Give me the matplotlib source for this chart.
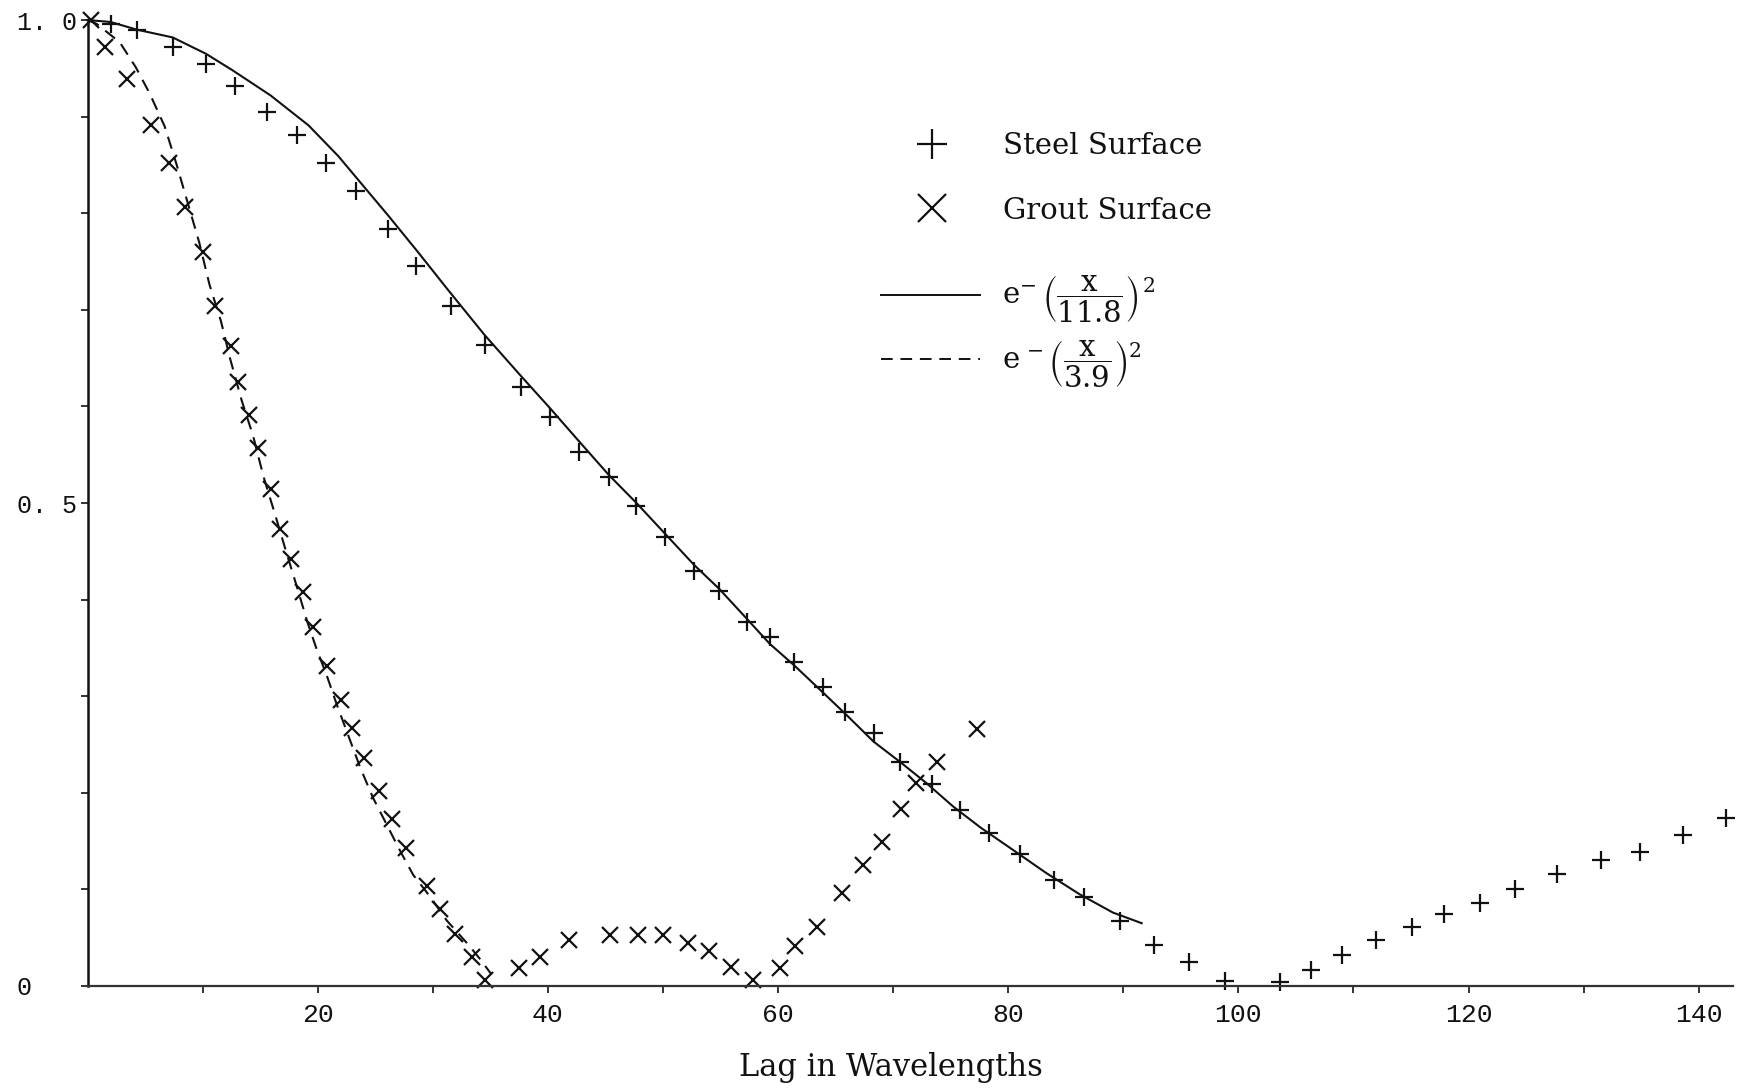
import matplotlib.pyplot as plt
from matplotlib.lines import Line2D

############################# DATA #####################################################################################
# Steel surface, "+" markers
steel_lag = [2.0, 4.3, 7.4, 10.3, 12.8, 15.6, 18.2, 20.7, 23.3, 26.1,
             28.5, 31.6, 34.5, 37.7, 40.2, 42.7, 45.3, 47.7, 50.2, 52.7,
             54.9, 57.3, 59.3, 61.4, 63.9, 65.8, 68.3, 70.6, 73.4, 75.8,
             78.3, 81.0, 84.0, 86.6, 89.7, 92.7, 95.7, 98.8, 103.6, 106.3,
             109.0, 112.0, 115.1, 117.9, 121.0, 124.0, 127.7, 131.5, 134.9, 138.6,
             142.4]
steel_corr = [0.996, 0.990, 0.972, 0.955, 0.932, 0.905, 0.881, 0.852, 0.823, 0.784,
              0.745, 0.704, 0.664, 0.620, 0.589, 0.553, 0.527, 0.497, 0.465, 0.430,
              0.409, 0.377, 0.361, 0.335, 0.310, 0.284, 0.262, 0.232, 0.209, 0.182,
              0.158, 0.137, 0.110, 0.092, 0.067, 0.042, 0.025, 0.005, 0.004, 0.017,
              0.032, 0.048, 0.061, 0.075, 0.086, 0.100, 0.116, 0.130, 0.139, 0.156,
              0.174]

# Grout surface, "x" markers
grout_lag = [0.3, 1.5, 3.4, 5.5, 7.1, 8.5, 10.0, 11.1, 12.5, 13.1,
             14.0, 14.8, 15.9, 16.7, 17.7, 18.7, 19.6, 20.8, 22.0, 23.0,
             24.0, 25.3, 26.5, 27.7, 29.5, 30.6, 31.9, 33.4, 34.5, 37.5,
             39.3, 41.8, 45.4, 47.8, 50.0, 52.2, 54.0, 55.9, 57.8, 60.2,
             61.5, 63.4, 65.6, 67.4, 69.0, 70.7, 72.0, 73.8, 77.3]
grout_corr = [1.0, 0.972, 0.939, 0.891, 0.852, 0.806, 0.760, 0.704, 0.663, 0.625,
              0.591, 0.557, 0.515, 0.473, 0.442, 0.408, 0.372, 0.331, 0.296, 0.267,
              0.236, 0.202, 0.173, 0.143, 0.103, 0.080, 0.054, 0.030, 0.006, 0.019,
              0.030, 0.048, 0.053, 0.053, 0.053, 0.045, 0.036, 0.020, 0.006, 0.019,
              0.041, 0.061, 0.096, 0.125, 0.149, 0.183, 0.210, 0.232, 0.266]

# Gaussian fit curves as drawn on the plot
fit_steel_lag = [0.0, 2.0, 4.3, 7.4, 10.3, 12.6, 15.9, 19.2, 21.8, 23.7, 26.1, 28.7,
                 31.3, 34.5, 37.7, 40.2, 42.7, 45.3, 47.7, 50.2, 52.7, 54.9, 57.3,
                 59.3, 61.4, 63.8, 66.0, 68.3, 70.6, 72.9, 75.2, 77.6, 80.4, 83.3,
                 86.2, 89.1, 91.6]
fit_steel_corr = [1.0, 0.998, 0.990, 0.982, 0.965, 0.948, 0.922, 0.891, 0.859, 0.832, 0.798, 0.760,
                  0.721, 0.674, 0.631, 0.598, 0.564, 0.529, 0.500, 0.468, 0.436, 0.411, 0.380,
                  0.354, 0.332, 0.305, 0.280, 0.253, 0.232, 0.210, 0.186, 0.164, 0.141, 0.117,
                  0.095, 0.076, 0.065]

fit_grout_lag = [0.0, 0.8, 2.8, 4.2, 5.4, 6.7, 7.7, 8.7, 9.7, 10.6, 11.6, 12.4, 13.4,
                 14.4, 15.3, 16.3, 17.3, 18.2, 19.1, 19.9, 20.8, 21.7, 22.7, 23.7,
                 24.8, 26.0, 27.2, 28.3, 29.8, 31.2, 33.0, 34.1, 35.1]
fit_grout_corr = [1.0, 0.996, 0.977, 0.951, 0.924, 0.890, 0.852, 0.811, 0.770, 0.726, 0.688, 0.649, 0.606,
                  0.569, 0.527, 0.488, 0.448, 0.413, 0.377, 0.349, 0.321, 0.290, 0.258, 0.226,
                  0.195, 0.167, 0.139, 0.115, 0.092, 0.068, 0.044, 0.028, 0.012]

xtick_major = [20, 40, 60, 80, 100, 120, 140]
xtick_labels = ['20', '40', '60', '80', '100', '120', '140']
xtick_minor = [10, 30, 50, 70, 90, 110, 130]
ytick_major = [0.0, 0.5, 1.0]
ytick_labels = ['0', '0. 5', '1. 0']
ytick_minor = [0.1, 0.2, 0.3, 0.4, 0.6, 0.7, 0.8, 0.9]

marker_labels = ['Steel Surface', 'Grout Surface']
curve_labels = [r'$\mathrm{e}^{-}\,\left(\dfrac{\mathrm{x}}{11.8}\right)^{\,2}$',
                r'$\mathrm{e}^{\,-}\left(\dfrac{\mathrm{x}}{3.9}\right)^{2}$']

########################################################################################################################

plt.rcParams['font.family'] = ['DejaVu Serif']
plt.rcParams['mathtext.fontset'] = 'dejavuserif'

ink = '#111111'

fig = plt.figure(figsize=(17.47, 10.89), dpi=100)
ax = fig.add_axes([0.0501, 0.0946, 0.942, 0.887])

ax.plot(fit_steel_lag, fit_steel_corr, color=ink, lw=1.5, clip_on=False)
ax.plot(fit_grout_lag, fit_grout_corr, color=ink, lw=1.5, ls=(0, (6, 4)), clip_on=False)
ax.plot(steel_lag, steel_corr, ls='none', marker='+', ms=13, mew=1.6, color=ink, clip_on=False)
ax.plot(grout_lag, grout_corr, ls='none', marker='x', ms=11, mew=1.6, color=ink, clip_on=False)

ax.set_xlim(0, 143)
ax.set_ylim(0, 1.0)

# axes: only left and bottom, bottom one looks like a rough dotted line
ax.spines['top'].set_visible(False)
ax.spines['right'].set_visible(False)
ax.spines['left'].set_linewidth(1.8)
ax.spines['left'].set_color(ink)
ax.spines['bottom'].set_linewidth(1.6)
ax.spines['bottom'].set_linestyle((0, (3, 1)))
ax.spines['bottom'].set_color('#333333')

ax.set_xticks(xtick_major, labels=xtick_labels, fontfamily='Liberation Mono', fontsize=19)
ax.set_xticks(xtick_minor, minor=True)
ax.set_yticks(ytick_major, labels=ytick_labels, fontfamily='Liberation Mono', fontsize=18, ha='left')
ax.set_yticks(ytick_minor, minor=True)
ax.tick_params(axis='both', which='both', direction='out', length=5, width=1.2, colors=ink)
ax.tick_params(axis='x', pad=7)
ax.tick_params(axis='y', pad=46)

fig.text(0.510, 0.020, 'Lag in Wavelengths', ha='center', va='center', fontsize=22, color=ink)

# legend in two blocks: the marker rows and the formula rows are spaced differently
marker_handles = [Line2D([], [], ls='none', marker='+', ms=22, mew=1.6, color=ink),
                  Line2D([], [], ls='none', marker='x', ms=20, mew=1.6, color=ink)]
curve_handles = [Line2D([], [], ls='-', lw=1.4, color=ink),
                 Line2D([], [], ls=(0, (6, 4)), lw=1.4, color=ink)]

leg1 = ax.legend(marker_handles, marker_labels, loc='upper left', bbox_to_anchor=(0.473, 0.899),
                 frameon=False, borderpad=0, fontsize=21, handlelength=3.5, handletextpad=0.7,
                 labelspacing=1.25, labelcolor=ink)
ax.add_artist(leg1)
ax.legend(curve_handles, curve_labels, loc='upper left', bbox_to_anchor=(0.473, 0.752),
          frameon=False, borderpad=0, fontsize=21, handlelength=3.4, handletextpad=0.75,
          labelspacing=0.45, labelcolor=ink)

plt.savefig('out.png', dpi=100)
